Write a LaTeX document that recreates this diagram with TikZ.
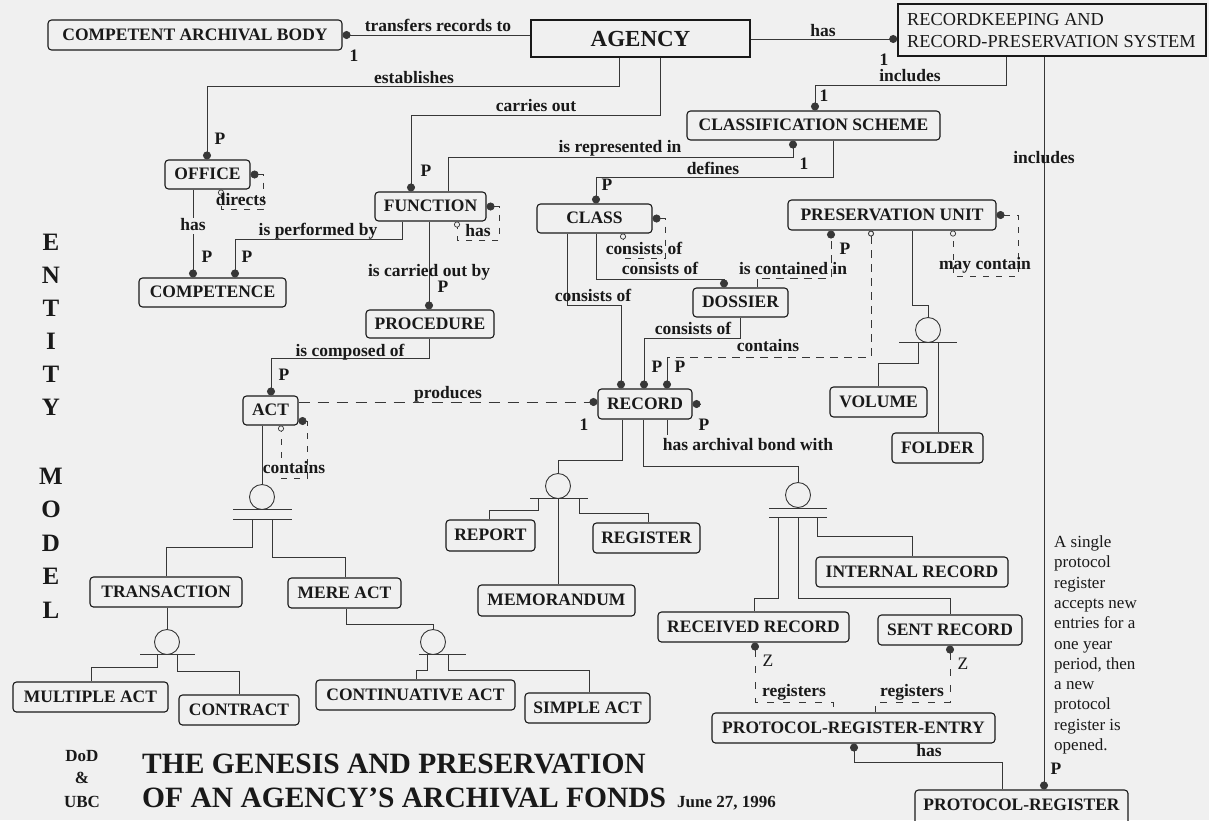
\documentclass[tikz,border=0pt]{standalone}
\usepackage{fontspec}
\setmainfont{Liberation Serif}
\usetikzlibrary{arrows.meta}

\definecolor{paper}{RGB}{240,240,240}
\definecolor{ink}{RGB}{25,25,25}
\definecolor{wire}{RGB}{55,55,55}

% entity box from its corner coordinates (x1,y1,x2,y2)
\newcommand\ebox[7][]{%
  \node[ent,#1,minimum width={#5-#3},minimum height={#6-#4}]
    (#2) at ({(#3+#5)/2},{(#4+#6)/2}) {#7};}

\begin{document}
\begin{tikzpicture}[x=1pt,y=-1pt,
  ent/.style={draw=ink,line width=1.1pt,rounded corners=3.5pt,inner sep=0pt,
    text=ink,font=\fontsize{17.5}{18}\selectfont\bfseries,
    text height=12pt,text depth=2pt},
  rel/.style={text=ink,inner sep=0pt,font=\fontsize{17.5}{18}\selectfont\bfseries,
    text height=12pt,text depth=3.5pt},
  rktext/.style={text=ink,inner sep=0pt,font=\fontsize{18.3}{19}\selectfont,anchor=west},
  big/.style={text=ink,inner sep=0pt,font=\fontsize{25}{26}\selectfont\bfseries},
  wire/.style={draw=wire,line width=0.9pt},
  selfrel/.style={draw=wire,line width=0.7pt,dash pattern=on 6pt off 7pt},
  dotS/.style={{Circle[length=8pt,width=8pt]}-},
  dotE/.style={-{Circle[length=8pt,width=8pt]}},
  ringS/.style={{Circle[fill=paper,length=6pt,width=6pt]}-},
  loopends/.style={{Circle[length=8pt,width=8pt]}-{Circle[fill=paper,length=6pt,width=6pt]}},
  dashA/.style={dash pattern=on 11pt off 8pt},
  dashB/.style={dash pattern=on 8pt off 6pt},
  dashC/.style={dash pattern=on 7pt off 9pt},
  gen/.style={circle,draw=wire,line width=0.9pt,minimum size=25pt,inner sep=0pt},
]
\useasboundingbox (0,0) rectangle (1209,820);
\fill[paper] (0,0) rectangle (1209,820);

% ---------- entities ----------
\ebox{cab}{48}{20}{342}{50}{COMPETENT ARCHIVAL BODY}
\ebox[sharp corners,font=\fontsize{23}{24}\selectfont\bfseries,text height=16pt,text depth=0pt]{agency}{531}{20}{750}{57}{AGENCY}
\ebox[sharp corners,line width=1.6pt]{rk}{898}{4}{1206}{56}{}
\node[rktext] (rk1) at (907,20) {RECORDKEEPING AND};
\node[rktext] (rk2) at (907,42) {RECORD-PRESERVATION SYSTEM};
\ebox{cs}{687}{111}{940}{140}{CLASSIFICATION SCHEME}
\ebox{office}{165}{160}{250}{189}{OFFICE}
\ebox{function}{375}{192}{486}{221}{FUNCTION}
\ebox{class}{537}{204}{652}{233}{CLASS}
\ebox{pu}{788}{200}{996}{230}{PRESERVATION UNIT}
\ebox{competence}{139}{278}{286}{307}{COMPETENCE}
\ebox{procedure}{366}{310}{494}{338}{PROCEDURE}
\ebox{dossier}{693}{288}{788}{317}{DOSSIER}
\ebox{act}{243}{396}{298}{425}{ACT}
\ebox{record}{598}{389}{692}{419}{RECORD}
\ebox{volume}{830}{387}{927}{417}{VOLUME}
\ebox{folder}{892}{433}{983}{463}{FOLDER}
\ebox{report}{446}{520}{535}{551}{REPORT}
\ebox{register}{593}{523}{700}{553}{REGISTER}
\ebox{memorandum}{478}{585}{635}{616}{MEMORANDUM}
\ebox{internal}{816}{557}{1008}{587}{INTERNAL RECORD}
\ebox{transaction}{90}{577}{242}{607}{TRANSACTION}
\ebox{mereact}{288}{578}{401}{608}{MERE ACT}
\ebox{received}{658}{612}{849}{642}{RECEIVED RECORD}
\ebox{sent}{878}{615}{1022}{645}{SENT RECORD}
\ebox{multiple}{13}{682}{168}{712}{MULTIPLE ACT}
\ebox{contract}{179}{695}{299}{725}{CONTRACT}
\ebox{continuative}{316}{680}{515}{710}{CONTINUATIVE ACT}
\ebox{simple}{525}{693}{650}{723}{SIMPLE ACT}
\ebox{pre}{712}{713}{995}{743}{PROTOCOL-REGISTER-ENTRY}
\node[ent,minimum width=213,minimum height=36] (pr) at (1021.5,808) {};
\node[rel,text height=12pt,text depth=2pt] (prt) at (1021.5,805) {PROTOCOL-REGISTER};

% ---------- relationships ----------
\draw[wire,dotS] (cab.east) -- (agency.west |- cab.east);
\draw[wire,dotE] (agency.east |- 0,39) -- (rk.west |- 0,39);
\draw[wire,dotE] (agency.south -| 619,0) -- (619,86) -- (207,86) -- (office.north -| 207,0);
\draw[wire,dotE] (agency.south -| 660,0) -- (660,115) -- (411,115) -- (function.north -| 411,0);
\draw[wire,dotE] (rk.south -| 1006,0) -- (1006,85) -- (815,85) -- (cs.north -| 815,0);
\draw[wire,dotE] (rk.south -| 1044,0) -- (pr.north -| 1044,0);
\draw[wire,dotE] (function.north -| 448,0) -- (448,157) -- (793,157) -- (cs.south -| 793,0);
\draw[wire,dotE] (cs.south -| 833,0) -- (833,177) -- (596,177) -- (class.north -| 596,0);
\draw[wire,dotE] (office.south -| 193,0) -- (competence.north -| 193,0);
\draw[wire,dotE] (function.south -| 402,0) -- (402,239) -- (235,239) -- (competence.north -| 235,0);
\draw[wire,dotE] (function.south -| 429,0) -- (procedure.north -| 429,0);
\draw[wire,dotE] (procedure.south -| 429,0) -- (429,358) -- (271,358) -- (act.north -| 271,0);
\draw[wire,dashA,dotE] (act.east |- 0,402) -- (record.west |- 0,402);
\draw[wire,dotE] (class.south -| 567,0) -- (567,305) -- (621,305) -- (record.north -| 621,0);
\draw[wire,dotE] (class.south -| 596,0) -- (596,279) -- (724,279) -- (dossier.north -| 724,0);
\draw[wire,dashB,dotE] (dossier.north -| 757,0) -- (757,278) -- (831,278) -- (pu.south -| 831,0);
\draw[wire,dotE] (dossier.south -| 740,0) -- (740,338) -- (644,338) -- (record.north -| 644,0);
\coordinate (pucorner) at (667,357);
\draw[wire,dashB,ringS] (pu.south -| 871,0) -- (871,357) -- (pucorner);
\draw[wire,dotE] (pucorner) -- (record.north -| 667,0);

% recursive relationships
\draw[selfrel,loopends] (office.east) -- (office.east -| 263,0) -- (263,209) -- (221,209) -- (office.south -| 221,0);
\draw[selfrel,loopends] (function.east) -- (function.east -| 499,0) -- (499,240) -- (457,240) -- (function.south -| 457,0);
\draw[selfrel,loopends] (class.east) -- (class.east -| 665,0) -- (665,258) -- (623,258) -- (class.south -| 623,0);
\draw[selfrel,loopends] (pu.east) -- (pu.east -| 1018,0) -- (1018,276) -- (953,276) -- (pu.south -| 953,0);
\draw[selfrel,loopends] (act.east |- 0,421) -- (307,421) -- (307,478) -- (281,478) -- (act.south -| 281,0);
\draw[wire,dotS] (record.east) -- ++(7,0);
\draw[wire] (record.south -| 667,0) -- ++(0,15);

% sub-type symbols
\node[gen] (gAct) at (262,497) {};
\coordinate (gActbar) at (262,519);
\draw[wire] (act.south -| 262,0) -- (gAct.north);
\draw[wire] (233,509) -- (292,509) (233,519) -- (292,519);
\draw[wire] (gActbar -| 252,0) -- (252,547) -- (166,547) -- (transaction.north -| 166,0);
\draw[wire] (gActbar -| 272,0) -- (272,557) -- (345,557) -- (mereact.north -| 345,0);

\node[gen] (gTr) at (167,642) {};
\coordinate (gTrbar) at (167,654);
\draw[wire] (transaction.south -| 167,0) -- (gTr.north);
\draw[wire] (140,654) -- (195,654);
\draw[wire] (gTrbar -| 157,0) -- (157,667) -- (91,667) -- (multiple.north -| 91,0);
\draw[wire] (gTrbar -| 177,0) -- (177,671) -- (239,671) -- (contract.north -| 239,0);

\node[gen] (gMa) at (433,642) {};
\coordinate (gMabar) at (433,654);
\draw[wire] (mereact.south -| 346,0) -- (346,624) -- (433,624) -- (gMa.north);
\draw[wire] (419,654) -- (466,654);
\draw[wire] (gMabar -| 427,0) -- (427,670) -- (416,670) -- (continuative.north -| 416,0);
\draw[wire] (gMabar -| 448,0) -- (448,670) -- (589,670) -- (simple.north -| 589,0);

\node[gen] (gRa) at (558,486) {};
\coordinate (gRabar) at (558,498);
\draw[wire] (record.south -| 622,0) -- (622,460) -- (558,460) -- (gRa.north);
\draw[wire] (530,498) -- (588,498);
\draw[wire] (gRabar -| 538,0) -- (538,510) -- (489,510) -- (report.north -| 489,0);
\draw[wire] (gRabar -| 579,0) -- (579,513) -- (648,513) -- (register.north -| 648,0);
\draw[wire] (gRa.south) -- (memorandum.north -| 558,0);

\node[gen] (gRb) at (798,495) {};
\coordinate (gRbbar) at (798,517);
\draw[wire] (record.south -| 643,0) -- (643,466) -- (798,466) -- (gRb.north);
\draw[wire] (769,508) -- (827,508) (769,517) -- (827,517);
\draw[wire] (gRbbar -| 778,0) -- (778,598) -- (754,598) -- (received.north -| 754,0);
\draw[wire] (gRbbar) -- (798,598) -- (950,598) -- (sent.north -| 950,0);
\draw[wire] (gRbbar -| 817,0) -- (817,536) -- (912,536) -- (internal.north -| 912,0);

\node[gen] (gPu) at (928,330) {};
\coordinate (gPubar) at (928,342);
\draw[wire] (pu.south -| 912,0) -- (912,305) -- (928,305) -- (gPu.north);
\draw[wire] (899,342) -- (957,342);
\draw[wire] (gPubar -| 918,0) -- (918,363) -- (878,363) -- (volume.north -| 878,0);
\draw[wire] (gPubar -| 938,0) -- (folder.north -| 938,0);

\draw[wire,dashC,dotS] (received.south -| 755,0) -- (755,702) -- (833,702) -- (pre.north -| 833,0);
\draw[wire,dashC,dotS] (sent.south -| 950,0) -- (950,702) -- (875,702) -- (pre.north -| 875,0);
\draw[wire,dotS] (pre.south -| 854,0) -- (854,762) -- (1002,762) -- (pr.north -| 1002,0);

% ---------- relationship labels ----------
\node[rel] (t1) at (438,27) {transfers records to};
\node[rel] (t2) at (354,57) {1};
\node[rel] (t3) at (823,32) {has};
\node[rel] (t4) at (414,79) {establishes};
\node[rel] (t5) at (536,107) {carries out};
\node[rel] (t6) at (884,61) {1};
\node[rel] (t7) at (910,77) {includes};
\node[rel] (t8) at (824,97) {1};
\node[rel] (t9) at (620,148) {is represented in};
\node[rel] (t10) at (804,165) {1};
\node[rel] (t11) at (713,170) {defines};
\node[rel] (t12) at (607,186) {P};
\node[rel] (t13) at (220,140) {P};
\node[rel] (t14) at (426,172) {P};
\node[rel] (t15) at (241,201) {directs};
\node[rel,fill=paper] (t16) at (193,226) {has};
\node[rel] (t17) at (318,231) {is performed by};
\node[rel] (t18) at (478,232) {has};
\node[rel] (t19) at (207,258) {P};
\node[rel] (t20) at (247,258) {P};
\node[rel] (t21) at (429,272) {is carried out by};
\node[rel] (t22) at (443,288) {P};
\node[rel] (t23) at (644,250) {consists of};
\node[rel] (t24) at (660,270) {consists of};
\node[rel] (t25) at (793,270) {is contained in};
\node[rel] (t26) at (845,250) {P};
\node[rel] (t27) at (985,265) {may contain};
\node[rel] (t28) at (593,297) {consists of};
\node[rel] (t29) at (693,330) {consists of};
\node[rel] (t30) at (768,347) {contains};
\node[rel] (t31) at (350,352) {is composed of};
\node[rel] (t32) at (284,376) {P};
\node[rel] (t33) at (657,368) {P};
\node[rel] (t34) at (680,368) {P};
\node[rel] (t35) at (448,394) {produces};
\node[rel] (t36) at (584,426) {1};
\node[rel] (t37) at (704,426) {P};
\node[rel] (t38) at (748,446) {has archival bond with};
\node[rel] (t39) at (294,469) {contains};
\node[rel,font=\fontsize{17.5}{18}\selectfont] (t40) at (768,662) {Z};
\node[rel,font=\fontsize{17.5}{18}\selectfont] (t41) at (963,665) {Z};
\node[rel] (t42) at (794,692) {registers};
\node[rel] (t43) at (912,692) {registers};
\node[rel] (t44) at (929,752) {has};
\node[rel] (t45) at (1044,159) {includes};
\node[rel] (t46) at (1056,770) {P};

% ---------- note, side title, footer ----------
\node[text=ink,inner sep=0pt,anchor=north west,align=left,
      font=\fontsize{17}{20.3}\selectfont] (note) at (1054,535.5)
  {A single\\protocol\\register\\accepts new\\entries for a\\one year\\period, then\\a new\\protocol\\register is\\opened.};

\foreach \c [count=\i from 0] in {E,N,T,I,T,Y}
  \node[big] (ent\i) at (51,242+33*\i) {\c};
\foreach \c [count=\i from 0] in {M,O,D,E,L}
  \node[big] (mod\i) at (51,476+33.5*\i) {\c};

\node[rel,font=\fontsize{17}{18}\selectfont\bfseries] (dod) at (82,757) {DoD};
\node[rel,font=\fontsize{17}{18}\selectfont\bfseries] (amp) at (82,779) {\&};
\node[rel,font=\fontsize{17}{18}\selectfont\bfseries] (ubc) at (82,803) {UBC};
\node[text=ink,inner sep=0pt,anchor=base west,font=\fontsize{29.5}{30}\selectfont\bfseries]
  (title1) at (142,773) {THE GENESIS AND PRESERVATION};
\node[text=ink,inner sep=0pt,anchor=base west,font=\fontsize{29.5}{30}\selectfont\bfseries]
  (title2) at (142,807) {OF AN AGENCY'S ARCHIVAL FONDS};
\node[text=ink,inner sep=0pt,anchor=base west,font=\fontsize{17}{18}\selectfont\bfseries]
  (date) at (677,807) {June 27, 1996};
\end{tikzpicture}
\end{document}
